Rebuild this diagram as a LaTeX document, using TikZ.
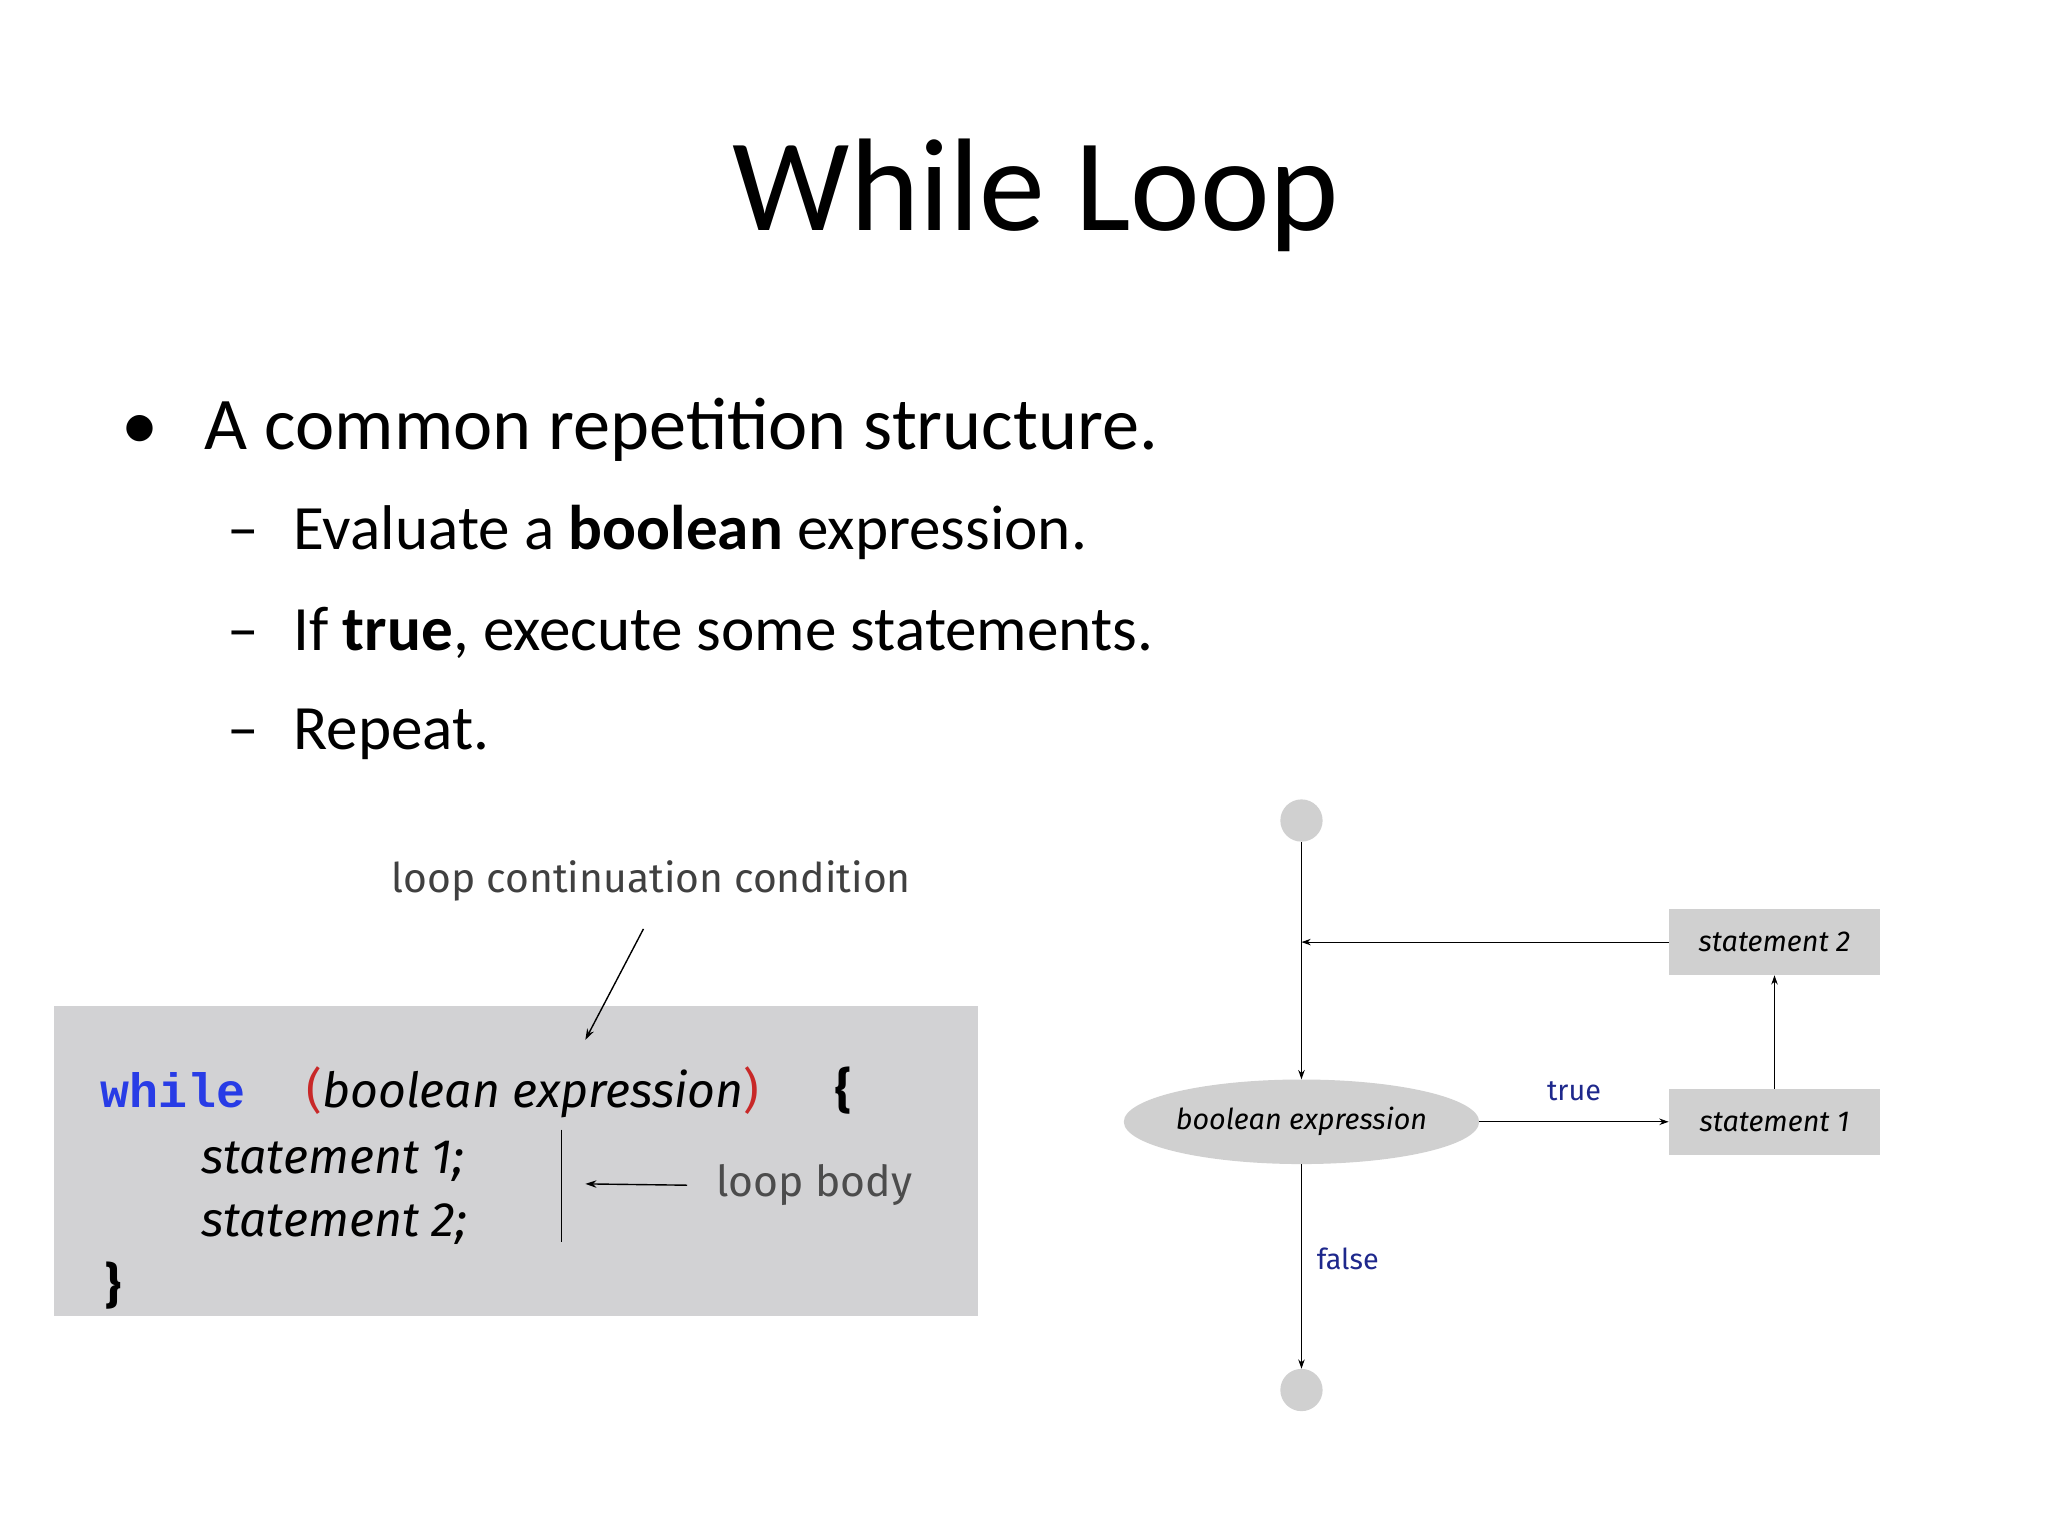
\documentclass[tikz,border=0pt]{standalone}
\usepackage{fontspec}
\setmainfont{Carlito}
\newfontfamily\codemono{Liberation Mono}
\newfontfamily\handfont{Fira Sans}
\usetikzlibrary{shapes.geometric,arrows.meta}
\definecolor{boxgray}{RGB}{210,210,212}
\definecolor{nodegray}{RGB}{208,208,208}
\definecolor{kwblue}{RGB}{40,60,230}
\definecolor{parred}{RGB}{200,40,40}
\definecolor{lblblue}{RGB}{30,40,140}
\newcommand{\fs}[1]{\fontsize{#1}{#1}\selectfont}
\begin{document}
\begin{tikzpicture}[x=0.05cm,y=-0.05cm,
  txt/.style={inner sep=0pt,anchor=base west},
  code/.style={inner sep=0pt,anchor=base west,font=\handfont\itshape\fs{52pt}},
  fnode/.style={fill=nodegray,draw=none,font=\handfont\itshape\fs{31pt}},
  flow/.style={line width=1.2pt,-{Stealth[length=10pt,width=7pt]}},
  lbl/.style={font=\handfont\fs{31pt},text=lblblue,inner sep=0pt}]
\useasboundingbox (0,0) rectangle (1550,1162);
\fill[white] (0,0) rectangle (1550,1162);
\node[inner sep=0pt,font=\fs{142pt}] (title) at (784,148) {While Loop};
\node[txt,font=\fs{80pt}] (b0) at (92,340) {•};
\node[txt,font=\fs{80pt}] (b1) at (155,340) {A common repetition structure.};
\node[txt,font=\fs{68pt}] (d1) at (172,416) {–};
\node[txt,font=\fs{68pt}] (s1) at (222,416) {Evaluate a \textbf{boolean} expression.};
\node[txt,font=\fs{68pt}] (d2) at (172,492) {–};
\node[txt,font=\fs{68pt}] (s2) at (222,492) {If \textbf{true}, execute some statements.};
\node[txt,font=\fs{68pt}] (d3) at (172,567) {–};
\node[txt,font=\fs{68pt}] (s3) at (222,567) {Repeat.};
% code box
\fill[boxgray] (41,761) rectangle (740,996);
\node[inner sep=0pt,font=\handfont\fs{44pt},text=black!75] (lcc) at (493,667) {loop continuation condition};
\coordinate (lccs) at (487,703);
\coordinate (lcce) at (443,787);
\draw[line width=1.5pt,-{Stealth[length=12pt,width=8pt]}] (lccs) -- (lcce);
\node[txt,font=\codemono\bfseries\fs{52pt},text=kwblue] (kw) at (76,838) {while};
\node[code] (cond) at (232,838) {\textcolor{parred}{\upshape(}boolean expression\textcolor{parred}{\upshape)}};
\node[code,font=\handfont\bfseries\fs{52pt}] (lb) at (632,838) {\{};
\node[code] (st1) at (152,888) {statement 1;};
\node[code] (st2) at (152,936) {statement 2;};
\node[code,font=\handfont\bfseries\fs{52pt}] (rb) at (80,986) {\}};
\coordinate (bart) at (425,855);
\coordinate (barb) at (425,940);
\draw[line width=2pt] (bart) -- (barb);
\node[inner sep=0pt,font=\handfont\fs{46pt},text=black!70,anchor=west] (lbody) at (542,897) {loop body};
\coordinate (lba) at (443,896);
\draw[line width=1.5pt,-{Stealth[length=12pt,width=8pt]}] (lbody.west) ++(-22,0) -- (lba);
% flowchart
\node[circle,fill=nodegray,minimum size=1.6cm,inner sep=0pt] (start) at (985,621) {};
\node[ellipse,fnode,minimum width=12.8cm,minimum height=3.2cm,inner sep=0pt] (be) at (985,849) {boolean expression};
\node[fnode,minimum width=8cm,minimum height=2.5cm] (n1) at (1343,849) {statement 1};
\node[fnode,minimum width=8cm,minimum height=2.5cm] (n2) at (1343,713) {statement 2};
\node[circle,fill=nodegray,minimum size=1.6cm,inner sep=0pt] (end) at (985,1052) {};
\coordinate (merge) at (985,713);
\draw[flow] (start) -- (be);
\draw[flow] (n2) -- (merge);
\draw[flow] (be) -- node[lbl,above=22pt] {true} (n1);
\draw[flow] (n1) -- (n2);
\draw[flow] (be) -- (end);
\node[lbl] (fl) at (1020,953) {false};
\end{tikzpicture}
\end{document}
